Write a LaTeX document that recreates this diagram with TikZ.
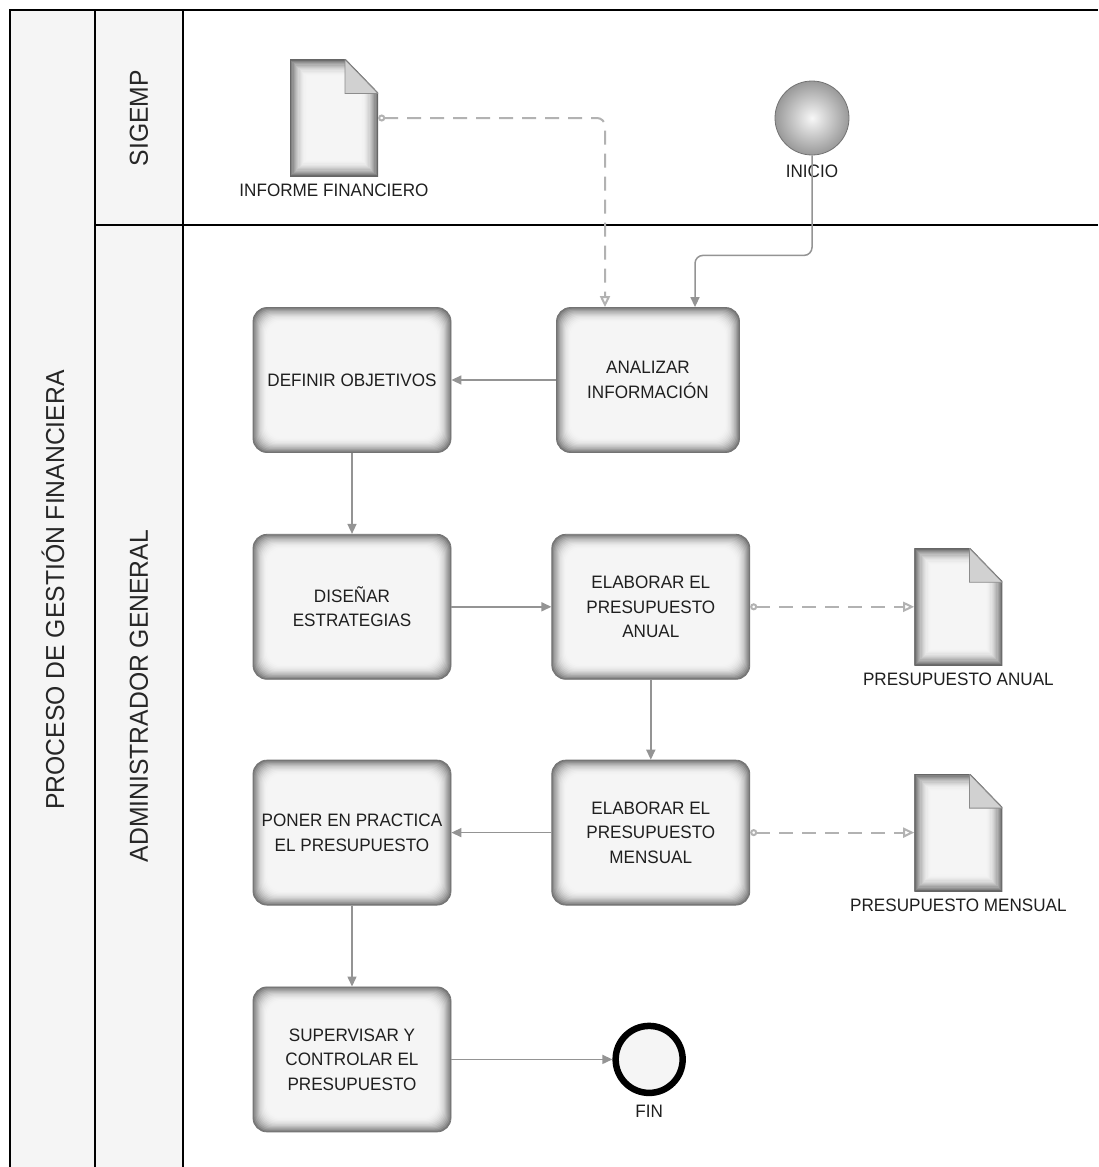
\documentclass[tikz,border=0pt]{standalone}
\usepackage{fontspec}
\setmainfont[FakeStretch=0.95]{Liberation Sans}
\usepackage{tikz}
\usetikzlibrary{positioning,arrows.meta}

\begin{document}
\begin{tikzpicture}[
  x=1pt, y=-1pt,
  font=\fontsize{18}{24.5}\selectfont,
  carril/.style={line width=2.8pt, black},
  titulo/.style={rotate=90, font=\fontsize{26}{30}\selectfont, text=black!85},
  tarea/.style={rectangle, rounded corners=14pt, minimum width=198pt,
                minimum height=145pt, align=center, inner sep=2pt,
                draw=black!55, line width=0.8pt, text=black!88,
                path picture={
                  \foreach \i in {0,...,12}{
                    \pgfmathsetmacro\tono{4+48*(1-\i/12)^2}
                    \fill[black!\tono, rounded corners=14pt]
                      ([shift={(\i*1.2pt,-\i*1.2pt)}]path picture bounding box.north west)
                      rectangle ([shift={(-\i*1.2pt,\i*1.2pt)}]path picture bounding box.south east);
                  }}},
  doc/.style={rectangle, minimum width=88pt, minimum height=117pt, inner sep=0pt,
              path picture={
                \begin{scope}
                  \clip (path picture bounding box.north west)
                    -- ([xshift=-33pt]path picture bounding box.north east)
                    -- ([yshift=-34pt]path picture bounding box.north east)
                    -- (path picture bounding box.south east)
                    -- (path picture bounding box.south west) -- cycle;
                  \foreach \i in {0,...,14}{
                    \pgfmathsetmacro\tono{4+52*(1-\i/14)^2}
                    \fill[black!\tono]
                      ([shift={(\i*1.2pt,-\i*1.2pt)}]path picture bounding box.north west)
                      rectangle ([shift={(-\i*1.2pt,\i*1.2pt)}]path picture bounding box.south east);
                  }
                \end{scope}
                \draw[black!60, line width=1.6pt]
                  (path picture bounding box.north west)
                    -- ([xshift=-33pt]path picture bounding box.north east)
                    -- ([yshift=-34pt]path picture bounding box.north east)
                    -- (path picture bounding box.south east)
                    -- (path picture bounding box.south west) -- cycle;
                \filldraw[fill=black!18, draw=black!45, line width=0.8pt]
                  ([xshift=-33pt]path picture bounding box.north east)
                    -- ([shift={(-33pt,-34pt)}]path picture bounding box.north east)
                    -- ([yshift=-34pt]path picture bounding box.north east) -- cycle;
              }},
  inicio/.style={circle, minimum size=74pt, inner sep=0pt, draw=black!55,
                 line width=0.8pt, inner color=black!3, outer color=black!40},
  fin/.style={circle, minimum size=67pt, inner sep=0pt, draw=black,
              line width=6.5pt, fill=black!4},
  etiqueta/.style={font=\fontsize{18}{22}\selectfont, text=black!88, inner sep=1pt},
  flecha/.style={-{Triangle[length=10pt,width=9pt]}, draw=black!42, line width=1.5pt},
  asoc/.style={{Circle[open,length=7pt,width=7pt]}-{Triangle[open,length=11pt,width=10pt]},
               draw=black!30, line width=2pt, dash pattern=on 14pt off 9pt},
]

\useasboundingbox (0,0) rectangle (1098,1167);
\fill[white] (0,0) rectangle (1098,1167);
\fill[black!4] (10,10) rectangle (183,1167);
\draw[carril] (10,1167) -- (10,10) -- (1098,10);
\draw[carril] (95,10) -- (95,1167);
\draw[carril] (183,10) -- (183,1167);
\draw[carril] (95,225) -- (1098,225);

\node[titulo] (proceso) at (53,590) {PROCESO DE GESTIÓN FINANCIERA};
\node[titulo] (sigemp) at (139,118) {SIGEMP};
\node[titulo] (admin) at (139,696) {ADMINISTRADOR GENERAL};

\node[doc] (informe) at (334,118) {};
\node[etiqueta, below=6pt of informe] (lblinforme) {INFORME FINANCIERO};
\node[inicio] (inicio) at (812,118) {};
\node[etiqueta, below=8.5pt of inicio] (lblinicio) {INICIO};

\node[tarea] (definir) at (352,380) {DEFINIR OBJETIVOS};
\node[tarea, minimum width=183pt] (analizar) at (648,380) {ANALIZAR\\INFORMACIÓN};
\node[tarea, below=81pt of definir] (disenar) {DISEÑAR\\ESTRATEGIAS};
\node[tarea, right=100pt of disenar] (anual) {ELABORAR EL\\PRESUPUESTO\\ANUAL};
\node[tarea, below=80pt of anual] (mensual) {ELABORAR EL\\PRESUPUESTO\\MENSUAL};
\node[tarea, below=80pt of disenar] (poner) {PONER EN PRACTICA\\EL PRESUPUESTO};
\node[tarea, below=81pt of poner] (supervisar) {SUPERVISAR Y\\CONTROLAR EL\\PRESUPUESTO};

\node[doc, right=164pt of anual] (docanual) {};
\node[etiqueta, below=6pt of docanual] (lblanual) {PRESUPUESTO ANUAL};
\node[doc, right=164pt of mensual] (docmensual) {};
\node[etiqueta, below=6pt of docmensual] (lblmensual) {PRESUPUESTO MENSUAL};

\node[fin, right=161pt of supervisar] (fin) {};
\node[etiqueta, below=7.5pt of fin] (lblfin) {FIN};

\draw[asoc, rounded corners=8pt] (informe.east) -| ([xshift=-43pt]analizar.north);
\draw[flecha, rounded corners=8pt] (inicio.south) -- ++(0,100) -| ([xshift=47pt]analizar.north);
\draw[flecha] (analizar) -- (definir);
\draw[flecha] (definir) -- (disenar);
\draw[flecha] (disenar) -- (anual);
\draw[asoc] (anual) -- (docanual);
\draw[flecha] (anual) -- (mensual);
\draw[asoc] (mensual) -- (docmensual);
\draw[flecha] (mensual) -- (poner);
\draw[flecha] (poner) -- (supervisar);
\draw[flecha] (supervisar) -- (fin);

\end{tikzpicture}
\end{document}
